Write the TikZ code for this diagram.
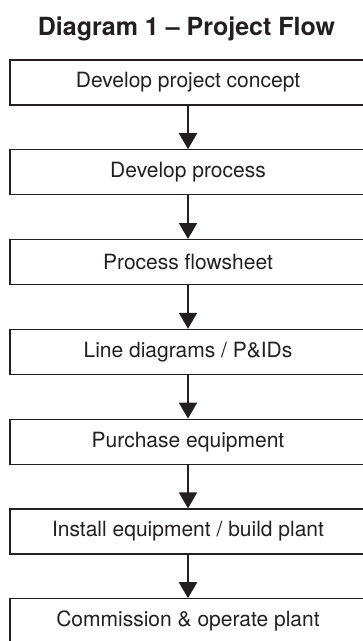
\documentclass[tikz,border=0pt]{standalone}
\usepackage{fontspec}
\setmainfont{TeX Gyre Heros}
\usetikzlibrary{arrows.meta}
\definecolor{ink}{RGB}{35,31,32}
\tikzset{
  stepbox/.style={draw=ink, line width=1.2pt, minimum width=356pt, minimum height=45pt,
    inner sep=0pt, text=ink, font=\fontsize{21}{25}\selectfont, anchor=center},
  flowarrow/.style={draw=ink, line width=2pt, -{Triangle[width=18pt,length=16pt]}},
}
\begin{document}
\begin{tikzpicture}[x=1pt,y=-1pt]
\useasboundingbox (0,0) rectangle (363,641);
\clip (0,0) rectangle (363,641);
\node[text=ink, font=\bfseries\fontsize{25}{30}\selectfont, anchor=base] (title) at (186.5,35) {Diagram 1 -- Project Flow};
\node[stepbox] (b1) at (188,82.5) {Develop project concept};
\node[stepbox] (b2) at (188,172.3) {Develop process};
\node[stepbox] (b3) at (188,262.1) {Process flowsheet};
\node[stepbox] (b4) at (188,351.9) {Line diagrams / P\&IDs};
\node[stepbox] (b5) at (188,441.7) {Purchase equipment};
\node[stepbox] (b6) at (188,531.5) {Install equipment / build plant};
\node[stepbox] (b7) at (188,621.3) {Commission \& operate plant};
\draw[flowarrow] (b1.south) -- (b2.north);
\draw[flowarrow] (b2.south) -- (b3.north);
\draw[flowarrow] (b3.south) -- (b4.north);
\draw[flowarrow] (b4.south) -- (b5.north);
\draw[flowarrow] (b5.south) -- (b6.north);
\draw[flowarrow] (b6.south) -- (b7.north);
\end{tikzpicture}
\end{document}
